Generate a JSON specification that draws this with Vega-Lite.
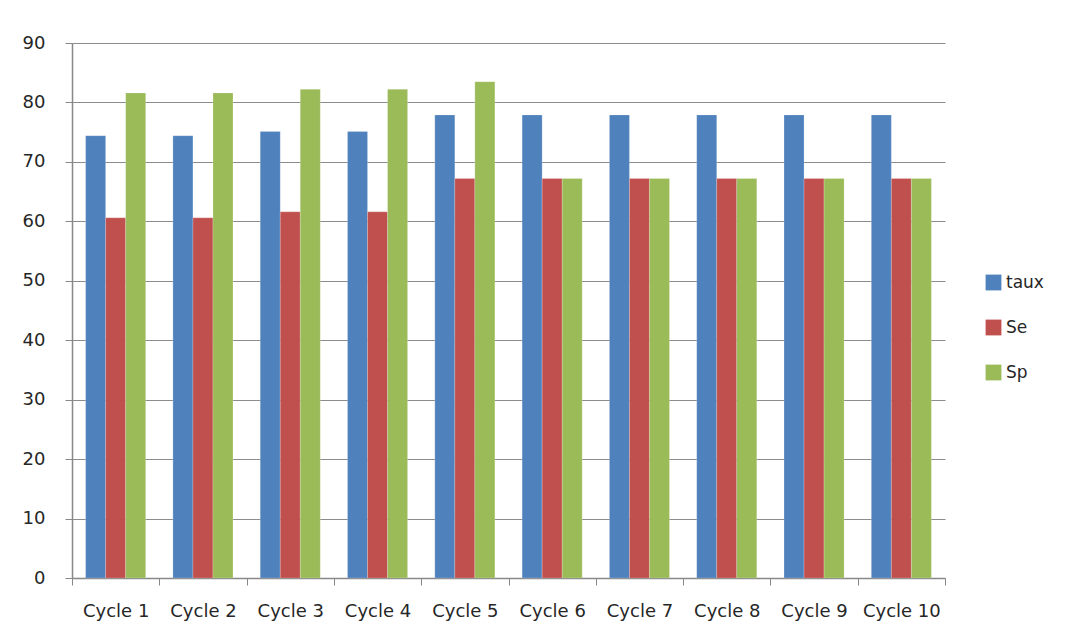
{
  "$schema": "https://vega.github.io/schema/vega-lite/v6.json",
  "width": 873,
  "height": 535,
  "autosize": {"type": "none"},
  "padding": {"left": 72, "top": 43, "right": 120, "bottom": 55},
  "background": "white",
  "config": {
    "view": {"stroke": null},
    "font": "DejaVu Sans"
  },
  "data": {
    "values": [
      {"cycle": "Cycle 1", "serie": "taux", "value": 74.4},
      {"cycle": "Cycle 1", "serie": "Se", "value": 60.6},
      {"cycle": "Cycle 1", "serie": "Sp", "value": 81.6},
      {"cycle": "Cycle 2", "serie": "taux", "value": 74.4},
      {"cycle": "Cycle 2", "serie": "Se", "value": 60.6},
      {"cycle": "Cycle 2", "serie": "Sp", "value": 81.6},
      {"cycle": "Cycle 3", "serie": "taux", "value": 75.1},
      {"cycle": "Cycle 3", "serie": "Se", "value": 61.6},
      {"cycle": "Cycle 3", "serie": "Sp", "value": 82.2},
      {"cycle": "Cycle 4", "serie": "taux", "value": 75.1},
      {"cycle": "Cycle 4", "serie": "Se", "value": 61.6},
      {"cycle": "Cycle 4", "serie": "Sp", "value": 82.2},
      {"cycle": "Cycle 5", "serie": "taux", "value": 77.9},
      {"cycle": "Cycle 5", "serie": "Se", "value": 67.2},
      {"cycle": "Cycle 5", "serie": "Sp", "value": 83.5},
      {"cycle": "Cycle 6", "serie": "taux", "value": 77.9},
      {"cycle": "Cycle 6", "serie": "Se", "value": 67.2},
      {"cycle": "Cycle 6", "serie": "Sp", "value": 67.2},
      {"cycle": "Cycle 7", "serie": "taux", "value": 77.9},
      {"cycle": "Cycle 7", "serie": "Se", "value": 67.2},
      {"cycle": "Cycle 7", "serie": "Sp", "value": 67.2},
      {"cycle": "Cycle 8", "serie": "taux", "value": 77.9},
      {"cycle": "Cycle 8", "serie": "Se", "value": 67.2},
      {"cycle": "Cycle 8", "serie": "Sp", "value": 67.2},
      {"cycle": "Cycle 9", "serie": "taux", "value": 77.9},
      {"cycle": "Cycle 9", "serie": "Se", "value": 67.2},
      {"cycle": "Cycle 9", "serie": "Sp", "value": 67.2},
      {"cycle": "Cycle 10", "serie": "taux", "value": 77.9},
      {"cycle": "Cycle 10", "serie": "Se", "value": 67.2},
      {"cycle": "Cycle 10", "serie": "Sp", "value": 67.2}
    ]
  },
  "mark": {"type": "bar", "stroke": "#ffffff", "strokeOpacity": 0.4, "strokeWidth": 0.5},
  "encoding": {
    "x": {
      "field": "cycle",
      "type": "nominal",
      "sort": null,
      "title": null,
      "scale": {"paddingInner": 0, "paddingOuter": 0},
      "axis": {
        "labelAngle": 0,
        "labelFontSize": 18,
        "labelColor": "#262626",
        "labelPadding": 17,
        "tickBand": "extent",
        "tickSize": 7,
        "tickColor": "#888888",
        "domainColor": "#888888",
        "domainWidth": 1.5
      }
    },
    "y": {
      "field": "value",
      "type": "quantitative",
      "title": null,
      "scale": {"domain": [0, 90]},
      "axis": {
        "values": [0, 10, 20, 30, 40, 50, 60, 70, 80, 90],
        "labelFontSize": 18,
        "labelColor": "#262626",
        "labelPadding": 20,
        "tickSize": 7,
        "tickColor": "#888888",
        "domainColor": "#888888",
        "domainWidth": 1.5,
        "grid": true,
        "gridColor": "#8c8c8c",
        "gridWidth": 1.2
      }
    },
    "xOffset": {
      "field": "serie",
      "type": "nominal",
      "sort": ["taux", "Se", "Sp"],
      "scale": {"domain": ["taux", "Se", "Sp"], "paddingInner": 0, "paddingOuter": 0.68}
    },
    "color": {
      "field": "serie",
      "type": "nominal",
      "sort": ["taux", "Se", "Sp"],
      "scale": {"domain": ["taux", "Se", "Sp"], "range": ["#4F81BD", "#C0504D", "#9BBB59"]},
      "legend": {
        "title": null,
        "orient": "none",
        "legendX": 913,
        "legendY": 231,
        "symbolType": "square",
        "symbolSize": 250,
        "symbolStrokeWidth": 0,
        "labelFontSize": 17,
        "labelColor": "#262626",
        "rowPadding": 27,
        "labelOffset": 4
      }
    }
  }
}
